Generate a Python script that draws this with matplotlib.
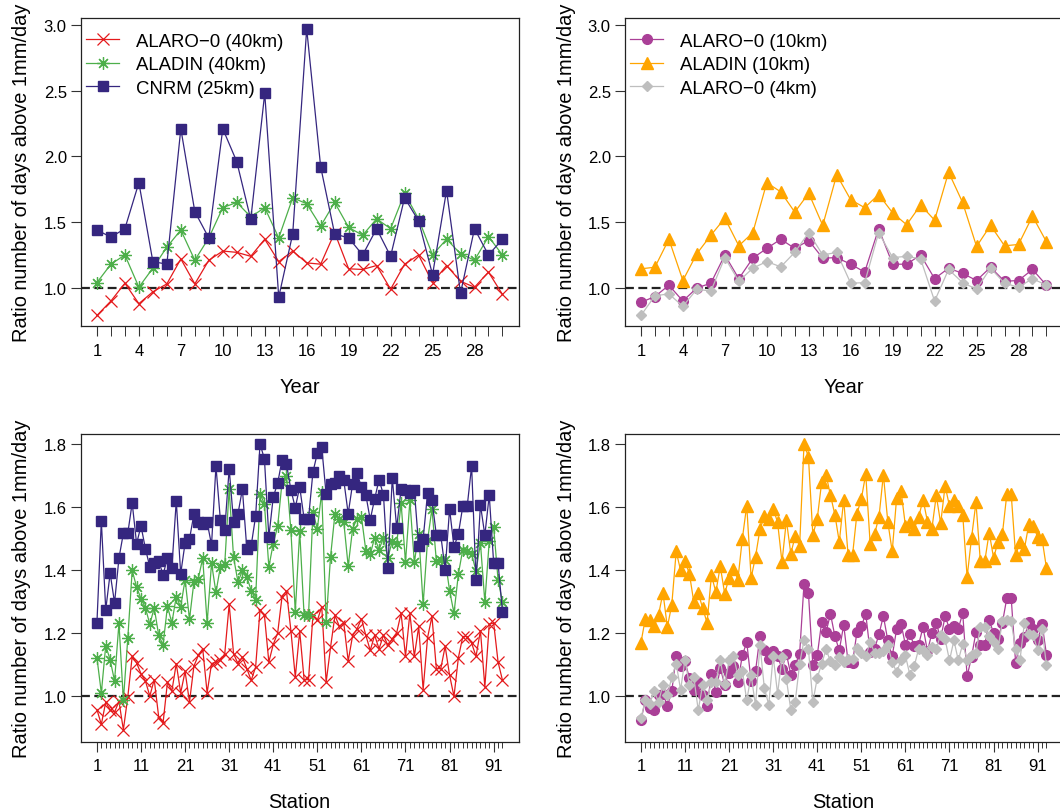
import numpy as np
import matplotlib
matplotlib.use("Agg")
import matplotlib.pyplot as plt

plt.rcParams['font.family'] = ['Liberation Sans', 'DejaVu Sans']

# ---- data: yearly ratios (30 years) ----
years = np.arange(1, 31)
alaro40 = [0.79, 0.90, 1.035, 0.88, 0.97, 1.03, 1.22, 1.03, 1.21, 1.28,
           1.27, 1.24, 1.37, 1.20, 1.28, 1.19, 1.18, 1.42, 1.145, 1.14,
           1.17, 0.99, 1.18, 1.25, 1.04, 1.17, 1.05, 1.005, 1.12, 0.95]
aladin40 = [1.04, 1.18, 1.25, 1.005, 1.15, 1.31, 1.44, 1.21, 1.38, 1.61,
            1.65, 1.54, 1.61, 1.38, 1.685, 1.64, 1.47, 1.65, 1.46, 1.40,
            1.525, 1.45, 1.72, 1.525, 1.25, 1.37, 1.26, 1.21, 1.39, 1.25]
cnrm25 = [1.44, 1.386, 1.45, 1.80, 1.20, 1.18, 2.21, 1.58, 1.38, 2.21,
          1.96, 1.52, 2.48, 0.93, 1.41, 2.97, 1.92, 1.41, 1.38, 1.25,
          1.45, 1.24, 1.685, 1.51, 1.10, 1.74, 0.96, 1.45, 1.25, 1.37]
alaro10 = [0.89, 0.934, 1.02, 0.90, 1.00, 1.035, 1.25, 1.07, 1.226, 1.30,
           1.37, 1.30, 1.36, 1.226, 1.23, 1.18, 1.12, 1.45, 1.18, 1.18,
           1.25, 1.07, 1.15, 1.11, 1.056, 1.157, 1.05, 1.056, 1.14, 1.02]
aladin10 = [1.145, 1.157, 1.37, 1.056, 1.26, 1.40, 1.53, 1.32, 1.42, 1.80,
            1.73, 1.576, 1.72, 1.475, 1.86, 1.67, 1.61, 1.71, 1.57, 1.48,
            1.63, 1.515, 1.88, 1.65, 1.315, 1.475, 1.32, 1.33, 1.545, 1.35]
alaro4 = [0.79, 0.94, 0.954, 0.86, 0.99, 0.975, 1.23, 1.05, 1.15, 1.20,
          1.16, 1.27, 1.42, 1.25, 1.27, 1.035, 1.04, 1.42, 1.23, 1.24,
          1.22, 0.90, 1.14, 1.04, 0.99, 1.15, 1.035, 1.005, 1.07, 1.02]

# ---- data: station ratios (93 stations) ----
stations = np.arange(1, 94)
st_alaro40 = [0.957, 0.91, 0.981, 0.955, 0.949, 0.983, 0.893, 0.997, 1.126, 1.105,
              1.071, 1.048, 1.0, 1.052, 0.935, 0.914, 1.044, 1.016, 1.103, 1.01,
              1.078, 0.981, 1.095, 1.129, 1.15, 1.01, 1.103, 1.108, 1.115, 1.134,
              1.291, 1.134, 1.103, 1.124, 1.087, 1.05, 1.092, 1.274, 1.256, 1.108,
              1.164, 1.20, 1.316, 1.333, 1.208, 1.06, 1.206, 1.052, 1.052, 1.256,
              1.24, 1.284, 1.044, 1.155, 1.256, 1.221, 1.232, 1.111, 1.192, 1.213,
              1.245, 1.193, 1.145, 1.193, 1.15, 1.193, 1.161, 1.182, 1.201, 1.263,
              1.126, 1.263, 1.126, 1.221, 1.02, 1.185, 1.253, 1.087, 1.087, 1.158,
              1.066, 0.999, 1.122, 1.189, 1.189, 1.168, 1.126, 1.208, 1.029, 1.228,
              1.232, 1.108, 1.05]
st_aladin40 = [1.122, 1.01, 1.16, 1.115, 1.048, 1.232, 0.986, 1.183, 1.399, 1.346,
               1.309, 1.28, 1.228, 1.28, 1.194, 1.162, 1.285, 1.232, 1.316, 1.283,
               1.37, 1.244, 1.362, 1.373, 1.438, 1.232, 1.422, 1.329, 1.41, 1.42,
               1.658, 1.44, 1.362, 1.399, 1.378, 1.335, 1.306, 1.642, 1.61, 1.41,
               1.484, 1.539, 1.68, 1.70, 1.526, 1.267, 1.524, 1.256, 1.256, 1.584,
               1.531, 1.648, 1.235, 1.443, 1.579, 1.563, 1.552, 1.412, 1.531, 1.563,
               1.57, 1.462, 1.45, 1.503, 1.465, 1.503, 1.439, 1.492, 1.482, 1.613,
               1.425, 1.621, 1.425, 1.515, 1.291, 1.494, 1.595, 1.429, 1.431, 1.433,
               1.335, 1.263, 1.388, 1.465, 1.462, 1.45, 1.397, 1.486, 1.298, 1.492,
               1.536, 1.369, 1.298]
st_cnrm25 = [1.232, 1.556, 1.274, 1.39, 1.296, 1.438, 1.517, 1.517, 1.613, 1.484,
             1.54, 1.468, 1.41, 1.423, 1.43, 1.385, 1.438, 1.407, 1.62, 1.388,
             1.486, 1.498, 1.578, 1.552, 1.545, 1.552, 1.48, 1.73, 1.56, 1.528,
             1.722, 1.552, 1.579, 1.657, 1.468, 1.478, 1.571, 1.80, 1.753, 1.505,
             1.632, 1.676, 1.75, 1.737, 1.655, 1.598, 1.664, 1.563, 1.563, 1.711,
             1.771, 1.79, 1.64, 1.672, 1.677, 1.70, 1.685, 1.579, 1.674, 1.708,
             1.664, 1.639, 1.56, 1.626, 1.687, 1.639, 1.406, 1.693, 1.534, 1.658,
             1.655, 1.644, 1.655, 1.475, 1.498, 1.644, 1.623, 1.511, 1.511, 1.401,
             1.594, 1.473, 1.515, 1.603, 1.603, 1.73, 1.367, 1.607, 1.511, 1.638,
             1.422, 1.422, 1.267]
st_alaro10 = [0.923, 0.986, 0.962, 0.955, 1.002, 1.007, 0.968, 1.015, 1.127, 1.095,
              1.11, 1.057, 1.018, 1.044, 1.002, 0.967, 1.071, 1.013, 1.089, 1.036,
              1.074, 1.095, 1.044, 1.129, 1.171, 1.047, 1.079, 1.19, 1.145, 1.119,
              1.142, 1.126, 1.087, 1.134, 1.068, 1.099, 1.134, 1.357, 1.327, 1.097,
              1.129, 1.235, 1.203, 1.261, 1.19, 1.145, 1.226, 1.108, 1.105, 1.203,
              1.222, 1.261, 1.14, 1.15, 1.196, 1.254, 1.177, 1.126, 1.212, 1.23,
              1.163, 1.198, 1.159, 1.163, 1.219, 1.142, 1.2, 1.232, 1.182, 1.253,
              1.214, 1.222, 1.214, 1.263, 1.063, 1.124, 1.203, 1.161, 1.161, 1.24,
              1.201, 1.182, 1.232, 1.311, 1.311, 1.106, 1.169, 1.187, 1.235, 1.214,
              1.177, 1.23, 1.131]
st_aladin10 = [1.169, 1.246, 1.243, 1.222, 1.258, 1.328, 1.219, 1.29, 1.459, 1.399,
               1.428, 1.388, 1.298, 1.328, 1.279, 1.233, 1.383, 1.33, 1.412, 1.325,
               1.375, 1.404, 1.37, 1.499, 1.605, 1.375, 1.443, 1.529, 1.571, 1.563,
               1.595, 1.552, 1.425, 1.558, 1.452, 1.508, 1.476, 1.801, 1.759, 1.512,
               1.563, 1.679, 1.703, 1.637, 1.576, 1.489, 1.624, 1.447, 1.447, 1.579,
               1.626, 1.705, 1.484, 1.515, 1.568, 1.703, 1.554, 1.459, 1.628, 1.652,
               1.541, 1.554, 1.531, 1.568, 1.624, 1.554, 1.531, 1.637, 1.548, 1.668,
               1.603, 1.621, 1.603, 1.576, 1.378, 1.502, 1.615, 1.428, 1.428, 1.519,
               1.439, 1.489, 1.515, 1.64, 1.64, 1.447, 1.489, 1.468, 1.546, 1.54,
               1.505, 1.499, 1.406]
st_alaro4 = [0.93, 0.986, 0.976, 1.015, 0.981, 1.036, 1.002, 1.06, 1.103, 1.02,
             1.116, 1.034, 1.06, 0.955, 1.036, 0.986, 1.044, 1.044, 1.113, 1.039,
             1.113, 1.127, 1.066, 1.081, 0.986, 1.066, 0.97, 1.163, 1.025, 0.972,
             1.127, 1.007, 1.124, 1.053, 0.957, 0.981, 1.103, 1.177, 1.15, 0.981,
             1.057, 1.103, 1.148, 1.11, 1.099, 1.124, 1.108, 1.119, 1.119, 1.152,
             1.138, 1.127, 1.171, 1.138, 1.138, 1.142, 1.161, 1.108, 1.076, 1.113,
             1.129, 1.068, 1.095, 1.15, 1.145, 1.131, 1.156, 1.15, 1.195, 1.18,
             1.113, 1.177, 1.113, 1.166, 1.116, 1.129, 1.138, 1.219, 1.219, 1.19,
             1.171, 1.15, 1.237, 1.24, 1.237, 1.148, 1.116, 1.233, 1.198, 1.193,
             1.145, 1.214, 1.097]

# colours
c_red = '#E41A1C'
c_green = '#4DAF4A'
c_navy = '#35267F'
c_mag = '#AA3F97'
c_orange = '#FFA500'
c_grey = '#BEBEBE'

ylab = 'Ratio number of days above 1mm/day'
W, H = 1060, 812

fig = plt.figure(figsize=(W / 100, H / 100), dpi=100)


def make_ax(left, top, right, bottom):
    return fig.add_axes([left / W, 1 - bottom / H, (right - left) / W, (bottom - top) / H])


ax1 = make_ax(80.7, 19.3, 518.7, 327)
ax2 = make_ax(624.7, 19.3, 1062.7, 327)
ax3 = make_ax(80.7, 434.7, 518.7, 742.7)
ax4 = make_ax(624.7, 434.7, 1062.7, 742.7)

lw = 0.9
ast = (8, 2, 0)  # R pch=8 style asterisk

# top left
ax1.plot(years, alaro40, color=c_red, lw=lw, marker='x', ms=8, mew=0.9, label='ALARO\u22120 (40km)')
ax1.plot(years, aladin40, color=c_green, lw=lw, marker=ast, ms=9, mew=0.9, label='ALADIN (40km)')
ax1.plot(years, cnrm25, color=c_navy, lw=lw, marker='s', ms=7.5, label='CNRM (25km)')

# top right
ax2.plot(years, alaro10, color=c_mag, lw=lw, marker='o', ms=7, label='ALARO\u22120 (10km)')
ax2.plot(years, aladin10, color=c_orange, lw=lw, marker='^', ms=8.5, label='ALADIN (10km)')
ax2.plot(years, alaro4, color=c_grey, lw=lw, marker='D', ms=5.5, label='ALARO\u22120 (4km)')

# bottom left
ax3.plot(stations, st_alaro40, color=c_red, lw=lw, marker='x', ms=8, mew=0.9)
ax3.plot(stations, st_aladin40, color=c_green, lw=lw, marker=ast, ms=9, mew=0.9)
ax3.plot(stations, st_cnrm25, color=c_navy, lw=lw, marker='s', ms=7.5)

# bottom right
ax4.plot(stations, st_alaro10, color=c_mag, lw=lw, marker='o', ms=7)
ax4.plot(stations, st_aladin10, color=c_orange, lw=lw, marker='^', ms=8.5)
ax4.plot(stations, st_alaro4, color=c_grey, lw=lw, marker='D', ms=5.5)

for ax in (ax1, ax2):
    ax.set_xlim(1 - 0.04 * 29, 30 + 0.04 * 29)
    ax.set_ylim(0.71, 3.05)
    ax.set_yticks([1.0, 1.5, 2.0, 2.5, 3.0])
    ax.set_xticks(np.arange(1, 31, 3))
    ax.set_xticks(np.arange(1, 31), minor=True)
    ax.legend(loc='upper left', bbox_to_anchor=(-0.005, 0.9766), borderaxespad=0,
              frameon=False, fontsize=13.4, handlelength=1.78,
              handletextpad=0.92, labelspacing=0.34)

for ax in (ax3, ax4):
    ax.set_xlim(1 - 0.04 * 92, 93 + 0.04 * 92)
    ax.set_ylim(0.855, 1.833)
    ax.set_yticks([1.0, 1.2, 1.4, 1.6, 1.8])
    ax.set_xticks(np.arange(1, 94, 10))
    ax.set_xticks(np.arange(1, 94), minor=True)

for ax in (ax1, ax2, ax3, ax4):
    ax.axhline(1.0, color='#222222', lw=1.6, ls=(0, (4, 2)), zorder=0.5)
    ax.yaxis.set_major_formatter(matplotlib.ticker.FormatStrFormatter('%.1f'))
    ax.tick_params(direction='out', length=7, width=0.8, labelsize=12, color='#333333')
    ax.tick_params(axis='x', pad=5)
    ax.tick_params(axis='y', pad=3)
    ax.tick_params(which='minor', direction='out', length=4, width=0.7, color='#333333')
    for s in ax.spines.values():
        s.set_linewidth(0.9)
        s.set_color('#222222')

for ax in (ax1, ax2):
    ax.tick_params(which='minor', length=7)

# axis titles
fig.text(22 / W, 1 - 173 / H, ylab, rotation=90, ha='center', va='center', fontsize=14.4)
fig.text(567 / W, 1 - 173 / H, ylab, rotation=90, ha='center', va='center', fontsize=14.4)
fig.text(22 / W, 1 - 588.7 / H, ylab, rotation=90, ha='center', va='center', fontsize=14.4)
fig.text(567 / W, 1 - 588.7 / H, ylab, rotation=90, ha='center', va='center', fontsize=14.4)
fig.text(299.7 / W, 1 - 393 / H, 'Year', ha='center', va='baseline', fontsize=14.4)
fig.text(843.7 / W, 1 - 393 / H, 'Year', ha='center', va='baseline', fontsize=14.4)
fig.text(299.7 / W, 1 - 808 / H, 'Station', ha='center', va='baseline', fontsize=14.4)
fig.text(843.7 / W, 1 - 808 / H, 'Station', ha='center', va='baseline', fontsize=14.4)

fig.savefig('out.png', dpi=100)
